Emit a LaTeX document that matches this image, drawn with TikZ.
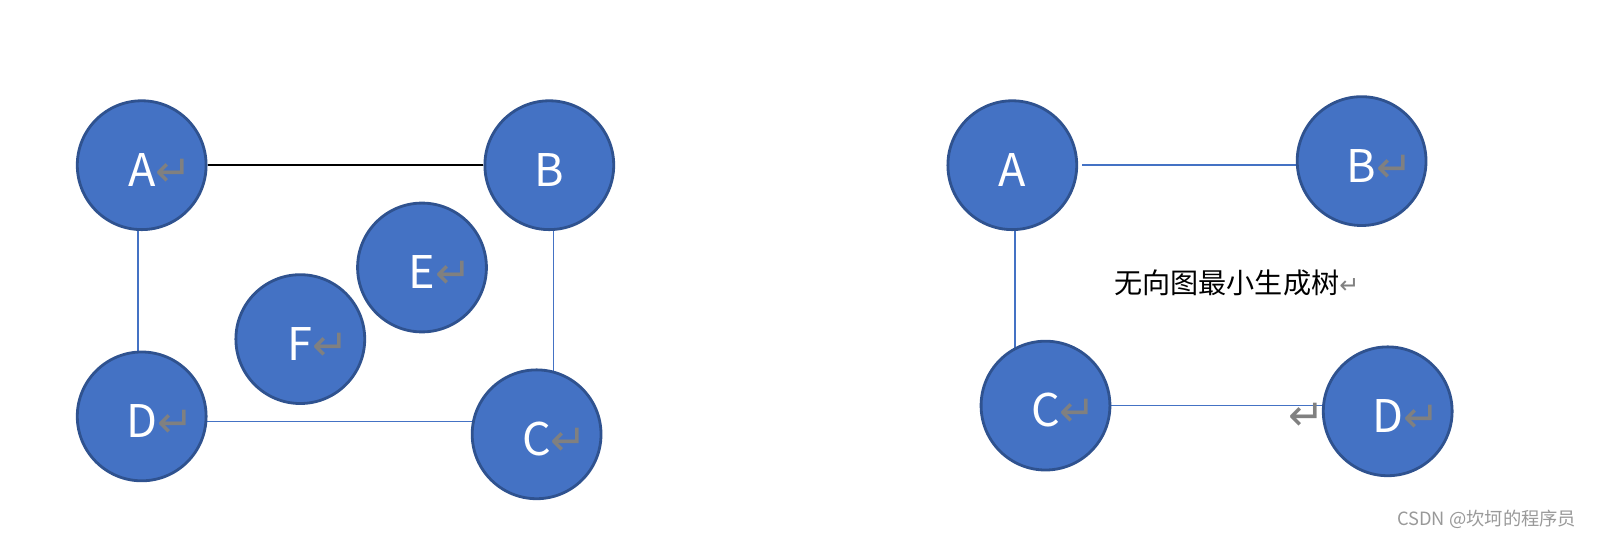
\documentclass[tikz,border=0pt]{standalone}
\usepackage{fontspec}
\setmainfont{Noto Sans CJK SC}
\newfontfamily\symfont{DejaVu Sans}
\usetikzlibrary{calc,backgrounds}
\definecolor{vfill}{HTML}{4472C4}
\definecolor{vline}{HTML}{2F528F}
\definecolor{retgray}{HTML}{808080}
% paragraph mark at a given size
\newcommand{\retmark}[1]{{\symfont\color{retgray}\fontsize{#1}{#1}\selectfont ↵}}
\newcommand{\bigret}{\retmark{31}}
\newcommand{\vname}[2]{\raisebox{-3.2pt}[\height][0pt]{#1\rlap{#2}}}
\tikzset{
  vtx/.style={circle,draw=vline,fill=vfill,line width=2pt,minimum size=3.22cm,
    inner sep=0pt,text=white,font=\fontsize{32}{32}\selectfont},
  edge/.style={draw=vfill,line width=1pt},
  bedge/.style={draw=black,line width=1pt},
  titletxt/.style={font=\fontsize{20}{20}\selectfont,anchor=west,inner sep=0pt},
  wmark/.style={font=\fontsize{13}{13}\selectfont,text=black!40,anchor=west,inner sep=0pt},
}

\begin{document}
\begin{tikzpicture}[x=0.025cm,y=-0.025cm]
  \useasboundingbox (0,0) rectangle (1604,538);
  % left: the undirected graph
  \node[vtx] (lA) at (141.7,165.2) {\vname{A}{\bigret}};
  \node[vtx] (lB) at (549.3,165.2) {\vname{B}{}};
  \node[vtx] (lE) at (422,267.5) {\vname{E}{\bigret}};
  \node[vtx] (lF) at (300.3,339.1) {\vname{F}{\bigret}};
  \node[vtx] (lD) at (141.7,416.4) {\vname{D}{\bigret}};
  \node[vtx] (lC) at (536.6,434.3) {\vname{C}{\bigret}};
  \begin{scope}[on background layer]
    \draw[bedge] (lA) -- (lB);
    \draw[edge] ($(lA)+(-3.6,0)$) coordinate (ad) -- (ad |- lD);
    \draw[edge] ($(lB)+(4,0)$) coordinate (bc) -- (bc |- lC);
    \draw[edge] ($(lD)+(0,5)$) coordinate (dc) -- (dc -| lC);
  \end{scope}
  % right: its minimum spanning tree
  \node[vtx] (rA) at (1012.3,165.2) {\vname{A}{}};
  \node[vtx] (rB) at (1361.6,161.1) {\vname{B}{\bigret}};
  \node[vtx] (rC) at (1045.5,405.6) {\vname{C}{\bigret}};
  \node[vtx] (rD) at (1387.7,411.3) {\vname{D}{\bigret}};
  \begin{scope}[on background layer]
    \draw[edge] ($(rA.east)+(4,0)$) -- (rA.east -| rB);
    \draw[edge] ($(rA)+(2.5,0)$) coordinate (ac) -- (ac |- rC);
    \draw[edge] (rC) -- (rC -| rD);
  \end{scope}
  \node[titletxt] (title) at (1114,282.5) {无向图最小生成树\retmark{17}};
  \node[inner sep=0pt] (ret) at (1307,417) {\bigret};
  \node[wmark] (csdn) at (1397,519) {CSDN @坎坷的程序员};
\end{tikzpicture}
\end{document}
